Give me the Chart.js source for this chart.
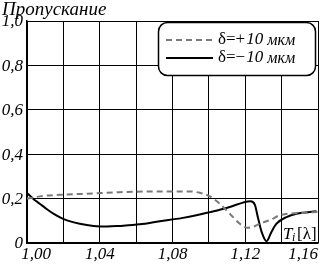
<!DOCTYPE html>
<html><head><meta charset="utf-8">
<script src="https://cdn.jsdelivr.net/npm/chart.js@4/dist/chart.umd.min.js"></script>
<style>html,body{margin:0;padding:0;background:#fff}#wrap{width:320px;height:264px}</style>
</head><body><div id="wrap"><canvas id="c" width="320" height="264"></canvas></div>
<script>
// δ = +10 мкм (dashed)
const plusX = [1.000,1.009,1.020,1.033,1.051,1.073,1.090,1.095,1.1005,1.106,1.1115,1.117,1.1208,1.124,1.128,1.134,1.139,1.150,1.160];
const plusY = [0.200,0.212,0.218,0.222,0.229,0.232,0.232,0.226,0.210,0.177,0.132,0.087,0.069,0.072,0.087,0.105,0.125,0.135,0.140];
// δ = −10 мкм (solid)
const minusX = [1.000,1.004,1.007,1.010,1.0145,1.019,1.022,1.029,1.0366,1.044,1.051,1.062,1.073,1.085,1.095,1.101,1.106,1.1115,1.1187,1.1229,1.1253,1.1271,1.129,1.1317,1.1344,1.1372,1.1427,1.1482,1.1592];
const minusY = [0.225,0.195,0.177,0.158,0.132,0.112,0.102,0.087,0.077,0.074,0.077,0.084,0.098,0.112,0.128,0.140,0.150,0.162,0.182,0.188,0.172,0.110,0.050,0.008,0.050,0.087,0.117,0.132,0.143];
const xTickLabels = ['1,00','1,04','1,08','1,12','1,16'];
const xTickValues = [1.00,1.04,1.08,1.12,1.16];
const yTickLabels = ['0','0,2','0,4','0,6','0,8','1,0'];
const yTickValues = [0,0.2,0.4,0.6,0.8,1.0];
const legendLabels = ['+10', '\u221210'];
const title = 'Пропускание';

const toPts = (xs, ys) => xs.map((x, i) => ({x, y: ys[i]}));
const SERIF = '"Liberation Serif", "DejaVu Serif", serif';

const overlay = {
  id: 'overlay',
  afterDraw(chart) {
    const ctx = chart.ctx, xs = chart.scales.x, ys = chart.scales.y;
    ctx.save();
    ctx.fillStyle = '#000';
    // title
    ctx.font = 'italic 19px ' + SERIF;
    ctx.textAlign = 'left'; ctx.textBaseline = 'alphabetic';
    ctx.fillText(title, 2, 15);
    // y labels
    ctx.font = 'italic 17px ' + SERIF;
    ctx.textAlign = 'right'; ctx.textBaseline = 'middle';
    yTickValues.forEach((v, i) => ctx.fillText(yTickLabels[i], 23, ys.getPixelForValue(v) + 1));
    // x labels
    ctx.textAlign = 'center'; ctx.textBaseline = 'middle';
    xTickValues.forEach((v, i) => {
      let px = xs.getPixelForValue(v);
      if (i === 0) px += 9;
      if (i === xTickValues.length - 1) px -= 15;
      ctx.fillText(xTickLabels[i], px, 255);
    });
    // legend box
    const bx = 158.5, by = 22.5, bw = 157, bh = 53, r = 9;
    ctx.beginPath();
    ctx.moveTo(bx + r, by);
    ctx.arcTo(bx + bw, by, bx + bw, by + bh, r);
    ctx.arcTo(bx + bw, by + bh, bx, by + bh, r);
    ctx.arcTo(bx, by + bh, bx, by, r);
    ctx.arcTo(bx, by, bx + bw, by, r);
    ctx.closePath();
    ctx.fillStyle = '#fff'; ctx.fill();
    ctx.lineWidth = 1.5; ctx.strokeStyle = '#000'; ctx.stroke();
    const ds = chart.data.datasets;
    const rows = [40, 58];
    rows.forEach((y, i) => {
      ctx.beginPath();
      ctx.setLineDash(ds[i].borderDash || []);
      ctx.strokeStyle = ds[i].borderColor; ctx.lineWidth = ds[i].borderWidth;
      ctx.moveTo(166, y); ctx.lineTo(213, y); ctx.stroke();
      ctx.setLineDash([]);
      ctx.fillStyle = '#000';
      ctx.textAlign = 'left'; ctx.textBaseline = 'middle';
      ctx.font = '17px ' + SERIF;
      const sym = 'δ=' + legendLabels[i].charAt(0);
      ctx.fillText(sym, 218, y);
      let w = ctx.measureText(sym).width;
      ctx.font = 'italic 17px ' + SERIF;
      ctx.fillText(legendLabels[i].slice(1), 218 + w + 1, y);
      let w2 = ctx.measureText(legendLabels[i].slice(1)).width;
      ctx.font = 'italic 16px ' + SERIF;
      ctx.fillText('мкм', 218 + w + w2 + 5, y + 1);
    });
    // T_i[λ]
    ctx.fillStyle = '#000';
    ctx.textAlign = 'left'; ctx.textBaseline = 'alphabetic';
    ctx.font = 'italic 17px ' + SERIF;
    ctx.fillText('T', 283, 239);
    ctx.font = 'italic 12px ' + SERIF;
    ctx.fillText('i', 292, 241);
    ctx.font = '17px ' + SERIF;
    ctx.fillText('[λ]', 297, 239);
    ctx.restore();
  }
};

new Chart(document.getElementById('c'), {
  type: 'line',
  data: {
    datasets: [
      { label: 'δ=+10 мкм', data: toPts(plusX, plusY), borderColor: '#7a7a7a', borderWidth: 2, borderDash: [6, 4], pointRadius: 0, fill: false, cubicInterpolationMode: 'monotone' },
      { label: 'δ=−10 мкм', data: toPts(minusX, minusY), borderColor: '#000', borderWidth: 2, pointRadius: 0, fill: false, cubicInterpolationMode: 'monotone' }
    ]
  },
  options: {
    responsive: false, animation: false, devicePixelRatio: 1,
    layout: { padding: { left: 27, right: 2, top: 21, bottom: 21 } },
    plugins: { legend: { display: false }, tooltip: { enabled: false } },
    scales: {
      x: { type: 'linear', min: 1.0, max: 1.16,
        ticks: { display: false, stepSize: 0.02 },
        grid: { color: '#000', lineWidth: 1, drawTicks: false },
        border: { color: '#000', width: 1.5 } },
      y: { type: 'linear', min: 0, max: 1.0,
        ticks: { display: false, stepSize: 0.2 },
        grid: { color: '#000', lineWidth: 1, drawTicks: false },
        border: { color: '#000', width: 1.5 } }
    }
  },
  plugins: [overlay]
});
</script>
</body></html>
